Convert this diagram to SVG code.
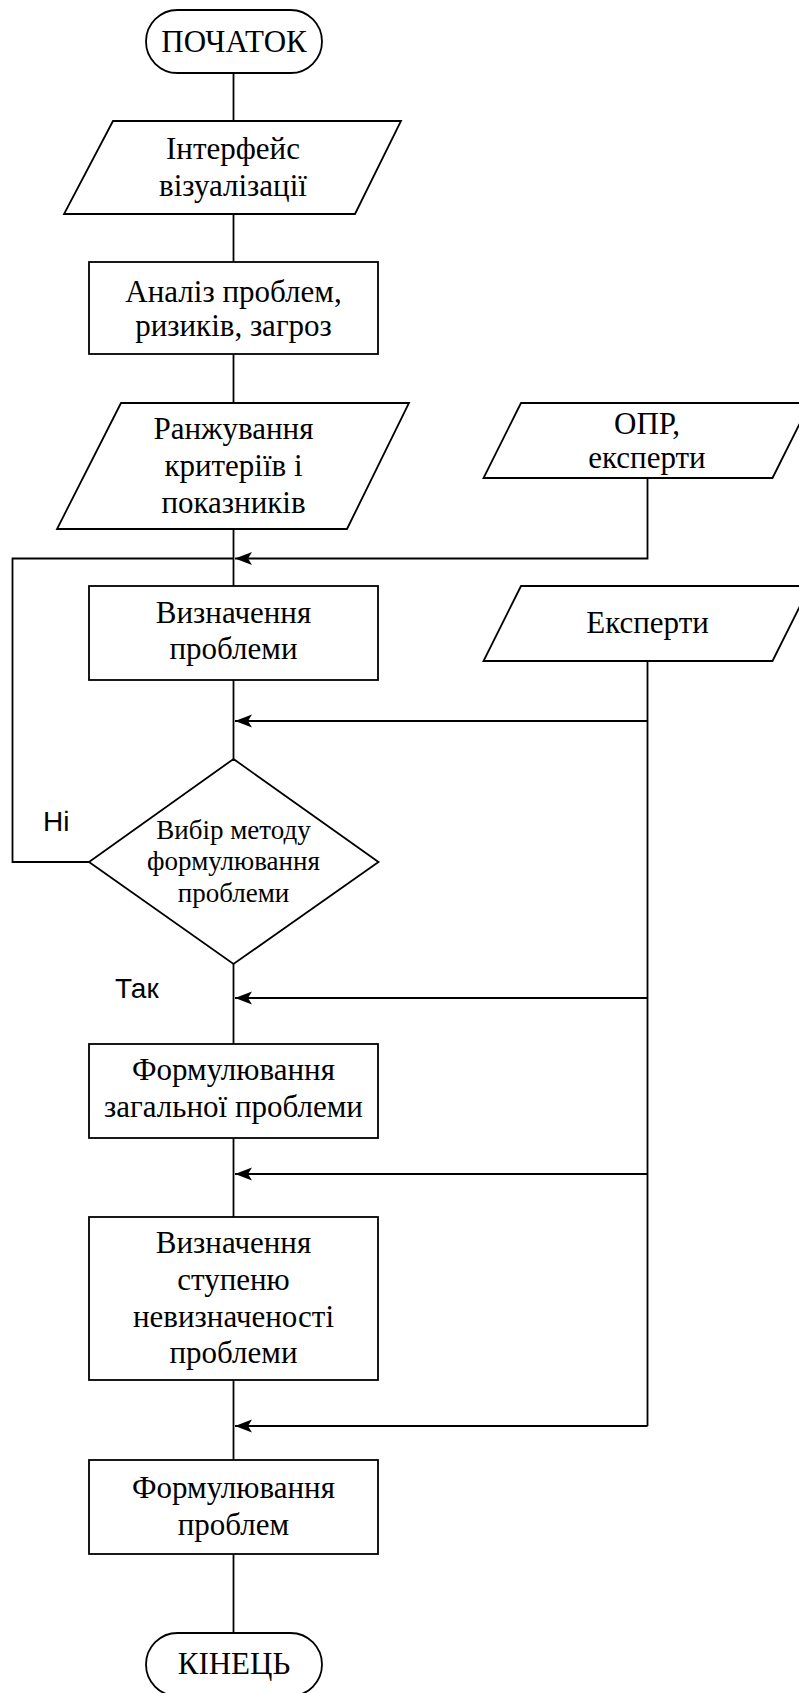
<svg xmlns="http://www.w3.org/2000/svg" width="799" height="1693" viewBox="0 0 799 1693">
  <style>
    .shape { fill: #ffffff; stroke: #000000; stroke-width: 1.8; }
    .line { fill: none; stroke: #000000; stroke-width: 1.8; }
    .t { font-family: "Liberation Serif", "Times New Roman", serif; font-size: 31px; fill: #000000; text-anchor: middle; }
    .ts { font-family: "Liberation Serif", "Times New Roman", serif; font-size: 27px; fill: #000000; text-anchor: middle; }
    .lbl { font-family: "Liberation Sans", Arial, sans-serif; font-size: 28px; fill: #000000; }
  </style>
  <defs>
    <!-- notched arrowhead, tip at the line end -->
    <marker id="arrow" markerUnits="userSpaceOnUse" viewBox="0 -7 18 14" refX="18" refY="0" markerWidth="18" markerHeight="14" orient="auto">
      <path d="M18,0 L1,-6.5 L5,0 L1,6.5 Z" fill="#000000"/>
    </marker>
  </defs>

  <!-- connectors -->
  <g id="connectors">
    <!-- main flow -->
    <line class="line" x1="233.5" y1="73" x2="233.5" y2="121"/>
    <line class="line" x1="233.5" y1="214" x2="233.5" y2="262"/>
    <line class="line" x1="233.5" y1="354" x2="233.5" y2="403"/>
    <line class="line" x1="233.5" y1="529" x2="233.5" y2="586"/>
    <line class="line" x1="233.5" y1="680" x2="233.5" y2="759"/>
    <line class="line" x1="233.5" y1="964" x2="233.5" y2="1044"/>
    <line class="line" x1="233.5" y1="1138" x2="233.5" y2="1217"/>
    <line class="line" x1="233.5" y1="1380" x2="233.5" y2="1460"/>
    <line class="line" x1="233.5" y1="1554" x2="233.5" y2="1633"/>
    <!-- "Ні" loop back -->
    <polyline class="line" points="89,862 12.5,862 12.5,558.5 233.5,558.5"/>
    <!-- inputs from the right -->
    <polyline class="line" points="647.5,478 647.5,558.5 235,558.5" marker-end="url(#arrow)"/>
    <line class="line" x1="647.5" y1="661" x2="647.5" y2="1426"/>
    <line class="line" x1="647.5" y1="721" x2="235" y2="721" marker-end="url(#arrow)"/>
    <line class="line" x1="647.5" y1="998" x2="235" y2="998" marker-end="url(#arrow)"/>
    <line class="line" x1="647.5" y1="1174" x2="235" y2="1174" marker-end="url(#arrow)"/>
    <line class="line" x1="647.5" y1="1426" x2="235" y2="1426" marker-end="url(#arrow)"/>
  </g>

  <g id="start">
    <rect class="shape" x="146" y="10" width="176" height="63" rx="31.5" ry="31.5"/>
    <text class="t" x="234" y="52">ПОЧАТОК</text>
  </g>

  <g id="interface">
    <polygon class="shape" points="113,121 401,121 355,214 64,214"/>
    <text class="t" x="233" y="159">Інтерфейс</text>
    <text class="t" x="233" y="196">візуалізації</text>
  </g>

  <g id="analysis">
    <rect class="shape" x="89" y="262" width="289" height="92"/>
    <text class="t" x="233.5" y="302">Аналіз проблем,</text>
    <text class="t" x="233.5" y="336">ризиків, загроз</text>
  </g>

  <g id="ranking">
    <polygon class="shape" points="121,403 409,403 347,529 57,529"/>
    <text class="t" x="233.5" y="439">Ранжування</text>
    <text class="t" x="233.5" y="476">критеріїв і</text>
    <text class="t" x="233.5" y="513">показників</text>
  </g>

  <g id="dm-experts">
    <polygon class="shape" points="521,403 810,403 772.5,478 483.5,478"/>
    <text class="t" x="647" y="434">ОПР,</text>
    <text class="t" x="647" y="468">експерти</text>
  </g>

  <g id="problem-definition">
    <rect class="shape" x="89" y="586" width="289" height="94"/>
    <text class="t" x="233.5" y="623">Визначення</text>
    <text class="t" x="233.5" y="659">проблеми</text>
  </g>

  <g id="experts">
    <polygon class="shape" points="521,586 810,586 772.5,661 483.5,661"/>
    <text class="t" x="647.5" y="633">Експерти</text>
  </g>

  <g id="method-choice">
    <polygon class="shape" points="233.5,759 378.5,862 233.5,964 89,862"/>
    <text class="ts" x="233.5" y="839">Вибір методу</text>
    <text class="ts" x="233.5" y="870">формулювання</text>
    <text class="ts" x="233.5" y="902">проблеми</text>
  </g>
  <text class="lbl" x="43" y="831">Ні</text>
  <text class="lbl" x="115" y="998">Так</text>

  <g id="general-problem">
    <rect class="shape" x="89" y="1044" width="289" height="94"/>
    <text class="t" x="233.5" y="1080">Формулювання</text>
    <text class="t" x="233.5" y="1117">загальної проблеми</text>
  </g>

  <g id="uncertainty">
    <rect class="shape" x="89" y="1217" width="289" height="163"/>
    <text class="t" x="233.5" y="1253">Визначення</text>
    <text class="t" x="233.5" y="1290">ступеню</text>
    <text class="t" x="233.5" y="1327">невизначеності</text>
    <text class="t" x="233.5" y="1363">проблеми</text>
  </g>

  <g id="problems">
    <rect class="shape" x="89" y="1460" width="289" height="94"/>
    <text class="t" x="233.5" y="1498">Формулювання</text>
    <text class="t" x="233.5" y="1535">проблем</text>
  </g>

  <g id="end">
    <rect class="shape" x="146" y="1633" width="176" height="63" rx="31.5" ry="31.5"/>
    <text class="t" x="234" y="1674">КІНЕЦЬ</text>
  </g>
</svg>
